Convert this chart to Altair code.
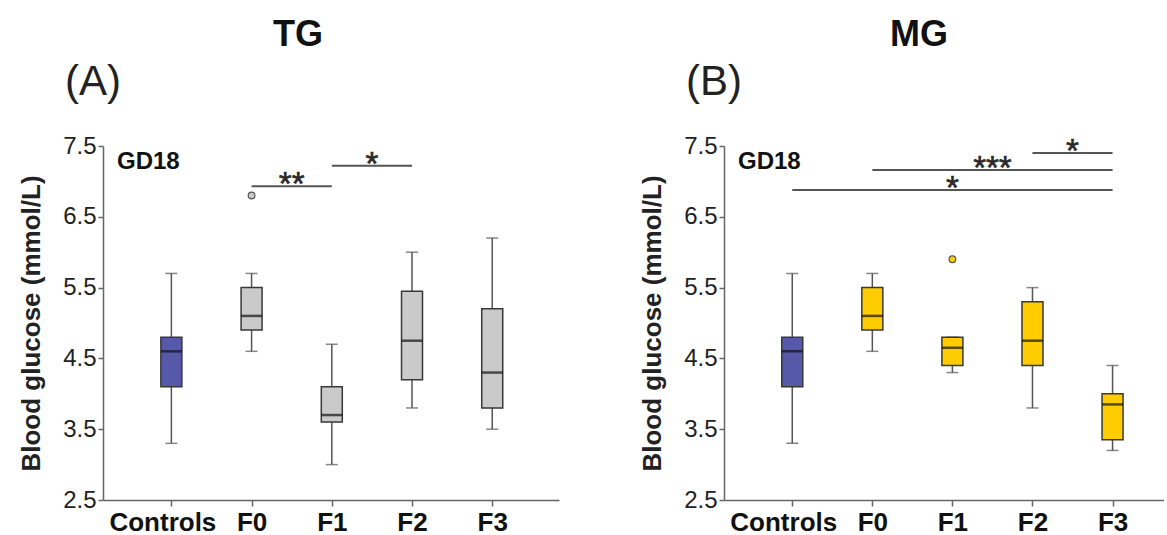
import json
import altair as alt
import pandas as pd

# ---------------- data ----------------
groups = ["Controls", "F0", "F1", "F2", "F3"]

# Panel A (TG)
tg_low = [3.3, 4.6, 3.0, 3.8, 3.5]
tg_q1 = [4.1, 4.9, 3.6, 4.2, 3.8]
tg_med = [4.6, 5.1, 3.7, 4.75, 4.3]
tg_q3 = [4.8, 5.5, 4.1, 5.45, 5.2]
tg_high = [5.7, 5.7, 4.7, 6.0, 6.2]
tg_out_groups = ["F0"]
tg_out_vals = [6.8]
tg_sig_from = ["F0", "F1"]
tg_sig_to = ["F1", "F2"]
tg_sig_y = [6.93, 7.22]
tg_sig_txt = ["**", "*"]

# Panel B (MG)
mg_low = [3.3, 4.6, 4.3, 3.8, 3.2]
mg_q1 = [4.1, 4.9, 4.4, 4.4, 3.35]
mg_med = [4.6, 5.1, 4.65, 4.75, 3.85]
mg_q3 = [4.8, 5.5, 4.8, 5.3, 4.0]
mg_high = [5.7, 5.7, 4.8, 5.5, 4.4]
mg_out_groups = ["F1"]
mg_out_vals = [5.9]
mg_sig_from = ["F2", "F0", "Controls"]
mg_sig_to = ["F3", "F3", "F3"]
mg_sig_y = [7.40, 7.16, 6.88]
mg_sig_txt = ["*", "***", "*"]

y_ticks = [2.5, 3.5, 4.5, 5.5, 6.5, 7.5]

CTRL_COLOR = "#5659A8"
TG_COLOR = "#CACACA"
MG_COLOR = "#FFCC00"
FONT = "Liberation Sans"


def panel(low, q1, med, q3, high, color, out_groups, out_vals,
          sig_from, sig_to, sig_y, sig_txt, letter, name, xmax, width):
    idx = list(range(len(groups)))
    fills = [CTRL_COLOR] + [color] * (len(groups) - 1)
    df = pd.DataFrame({"i": idx, "group": groups, "low": low, "q1": q1,
                       "med": med, "q3": q3, "high": high, "fill": fills})
    out_df = pd.DataFrame({"i": [groups.index(g) for g in out_groups],
                           "v": out_vals,
                           "fill": [color] * len(out_vals)})
    sig_df = pd.DataFrame({
        "a": [groups.index(g) for g in sig_from],
        "b": [groups.index(g) for g in sig_to],
        "y": sig_y, "t": sig_txt})
    sig_df["m"] = (sig_df["a"] + sig_df["b"]) / 2

    xs = alt.Scale(domain=[-0.79, xmax], nice=False, zero=False)
    ys = alt.Scale(domain=[2.5, 7.5], nice=False, zero=False)
    xaxis = alt.Axis(values=idx, labelExpr=f"{json.dumps(groups)}[datum.value]",
                     title=None, labelFontSize=26, labelFontWeight="bold",
                     labelColor="#111", labelPadding=3, tickSize=6, grid=False,
                     labelOffset={"condition": {"test": "datum.value == 0", "value": -9}, "value": 0})
    yaxis = alt.Axis(values=y_ticks, format=".1f", title="Blood glucose (mmol/L)",
                     titleFontSize=26, titleFontWeight="bold", titleColor="#222",
                     titlePadding=18, labelFontSize=24, labelColor="#222",
                     labelPadding=2, tickSize=5, grid=False)

    def X(f):
        return alt.X(f, type="quantitative", scale=xs, axis=xaxis)

    def Y(f):
        return alt.Y(f, type="quantitative", scale=ys, axis=yaxis)

    base = alt.Chart(df)
    whisk = base.mark_rule(color="#555555", strokeWidth=1.5).encode(
        x=X("i"), y=Y("low"), y2="high")
    cap_lo = base.mark_tick(orient="horizontal", size=12, thickness=1.5,
                            color="#555555").encode(x=X("i"), y=Y("low"))
    cap_hi = base.mark_tick(orient="horizontal", size=12, thickness=1.5,
                            color="#555555").encode(x=X("i"), y=Y("high"))
    box = base.mark_bar(size=21, stroke="#383838", strokeWidth=1.5).encode(
        x=X("i"), y=Y("q1"), y2="q3", color=alt.Color("fill:N", scale=None))
    medl = base.mark_tick(orient="horizontal", size=21, thickness=2.5,
                          color="#111111").encode(x=X("i"), y=Y("med"))
    outl = alt.Chart(out_df).mark_point(filled=True, size=45, stroke="#555555",
                                        strokeWidth=1.2, opacity=1).encode(
        x=X("i"), y=Y("v"), fill=alt.Fill("fill:N", scale=None))
    sig_rule = alt.Chart(sig_df).mark_rule(color="#555555", strokeWidth=2).encode(
        x=X("a"), x2="b", y=Y("y"))
    sig_text = alt.Chart(sig_df).mark_text(fontSize=33, font=FONT, color="#2a2a2a",
                                           baseline="alphabetic", dy=9,
                                           stroke="#2a2a2a", strokeWidth=0.6).encode(
        x=X("m"), y=Y("y"), text="t:N")

    gd = alt.Chart(pd.DataFrame({"t": ["GD18"]})).mark_text(
        fontSize=24, fontWeight="bold", font=FONT, align="left",
        baseline="middle", color="#111").encode(
        text="t:N", x=alt.value(14), y=alt.value(16))
    ttl = alt.Chart(pd.DataFrame({"t": [name]})).mark_text(
        fontSize=36, fontWeight="bold", font=FONT, align="center",
        baseline="middle", color="#111").encode(
        text="t:N", x=alt.value(195), y=alt.value(-111))
    let = alt.Chart(pd.DataFrame({"t": [letter]})).mark_text(
        fontSize=42, font=FONT, align="center", baseline="middle",
        color="#222").encode(text="t:N", x=alt.value(-10), y=alt.value(-64))

    return alt.layer(whisk, cap_lo, cap_hi, box, medl, outl, sig_rule,
                     sig_text, gd, ttl, let).properties(width=width, height=354)


pa = panel(tg_low, tg_q1, tg_med, tg_q3, tg_high, TG_COLOR, tg_out_groups,
           tg_out_vals, tg_sig_from, tg_sig_to, tg_sig_y, tg_sig_txt,
           "(A)", "TG", 4.77, 456)
pb = panel(mg_low, mg_q1, mg_med, mg_q3, mg_high, MG_COLOR, mg_out_groups,
           mg_out_vals, mg_sig_from, mg_sig_to, mg_sig_y, mg_sig_txt,
           "(B)", "MG", 4.58, 440)

chart = alt.hconcat(pa, pb, spacing=80).properties(
    padding={"left": 18, "top": 17, "right": 0, "bottom": 0},
    background="white"
).configure_view(stroke=None).configure_axis(
    domainColor="#666666", domainWidth=1.5, tickColor="#666666",
    tickWidth=1.5, labelFont=FONT, titleFont=FONT
)

chart.save("out.html", embed_options={"renderer": "svg", "actions": False})
